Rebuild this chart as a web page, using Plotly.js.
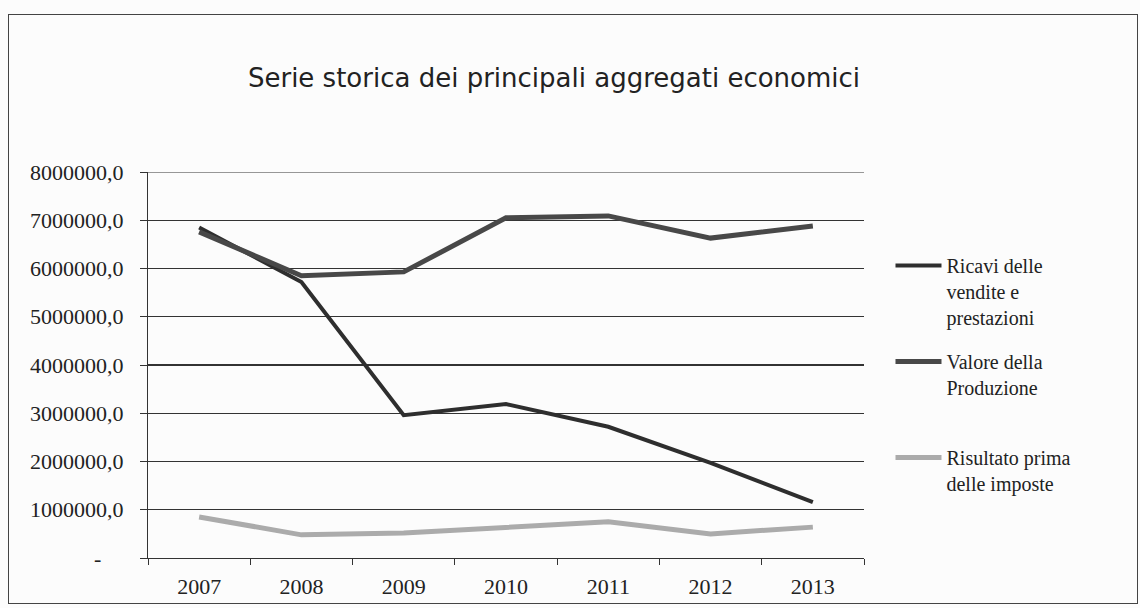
<!DOCTYPE html>
<html>
<head>
<meta charset="utf-8">
<script src="https://cdn.plot.ly/plotly-3.0.1.min.js"></script>
<style>
  html, body { margin: 0; padding: 0; background: #fcfcfc; }
  #wrap { position: relative; width: 1140px; height: 608px; overflow: hidden; background: #fcfcfc; }
  #frame { position: absolute; left: 8px; top: 14px; width: 1130px; height: 590px; border: 1.5px solid #444; box-sizing: border-box; pointer-events: none; z-index: 5; }
  #chart { position: absolute; left: 0; top: 0; width: 1140px; height: 608px; }
</style>
</head>
<body>
<div id="wrap">
  <div id="chart"></div>
  <div id="frame"></div>
</div>
<script>
const years = ['2007', '2008', '2009', '2010', '2011', '2012', '2013'];
const ricavi = [6850000, 5720000, 2960000, 3190000, 2720000, 1970000, 1160000];
const valoreProduzione = [6760000, 5850000, 5930000, 7050000, 7090000, 6630000, 6880000];
const risultatoAnteImposte = [850000, 480000, 520000, 640000, 750000, 500000, 640000];
const seriesNames = ['Ricavi delle<br>vendite e<br>prestazioni', 'Valore della<br>Produzione', 'Risultato prima<br>delle imposte'];
const tickValues = [0, 1000000, 2000000, 3000000, 4000000, 5000000, 6000000, 7000000, 8000000];
const tickLabels = ['-\u00a0\u00a0\u00a0\u00a0', '1000000,0', '2000000,0', '3000000,0', '4000000,0', '5000000,0', '6000000,0', '7000000,0', '8000000,0'];
const chartTitle = 'Serie storica dei principali aggregati economici';
const yMax = 8000000;

const serif = '"Liberation Serif", "DejaVu Serif", serif';

const traces = [
  { x: years, y: ricavi, name: seriesNames[0], type: 'scatter', mode: 'lines',
    line: { color: '#2e2e2e', width: 4 }, legend: 'legend' },
  { x: years, y: valoreProduzione, name: seriesNames[1], type: 'scatter', mode: 'lines',
    line: { color: '#484848', width: 5 }, legend: 'legend2' },
  { x: years, y: risultatoAnteImposte, name: seriesNames[2], type: 'scatter', mode: 'lines',
    line: { color: '#ababab', width: 5 }, legend: 'legend3' }
];

const legendBase = {
  font: { family: serif, size: 20, color: '#222' },
  bgcolor: 'rgba(0,0,0,0)',
  borderwidth: 0,
  valign: 'top',
  xanchor: 'left',
  yanchor: 'top',
  itemwidth: 46,
  tracegroupgap: 0
};

const layout = {
  width: 1140,
  height: 608,
  paper_bgcolor: '#fcfcfc',
  plot_bgcolor: '#fcfcfc',
  margin: { l: 148, r: 276, t: 172, b: 50 },
  title: {
    text: chartTitle,
    font: { family: '"DejaVu Sans", sans-serif', size: 26, color: '#222' },
    x: 554 / 1140, xanchor: 'center', xref: 'container',
    y: 1 - 78 / 608, yanchor: 'middle', yref: 'container'
  },
  xaxis: {
    type: 'category',
    range: [-0.5, 6.5],
    showgrid: false,
    showline: true, linecolor: '#333', linewidth: 1.2,
    ticks: 'outside', tickson: 'boundaries', ticklen: 6, tickcolor: '#333',
    ticklabelstandoff: 8,
    tickfont: { family: serif, size: 22, color: '#222' },
    fixedrange: true
  },
  yaxis: {
    range: [0, yMax],
    tickvals: tickValues,
    ticktext: tickLabels,
    showgrid: true, gridcolor: '#333', gridwidth: 1.2,
    showline: true, linecolor: '#333', linewidth: 1.2,
    ticks: 'outside', ticklen: 7, tickcolor: '#333',
    ticklabelstandoff: 12,
    tickfont: { family: serif, size: 22, color: '#222' },
    zeroline: false,
    fixedrange: true
  },
  shapes: [
    { type: 'line', xref: 'paper', yref: 'y', x0: 0, x1: 1, y0: yMax, y1: yMax,
      line: { color: '#333', width: 1.2 } }
  ],
  showlegend: true,
  legend: Object.assign({}, legendBase, { x: 1.037, y: 1 - (246 - 172) / 386 }),
  legend2: Object.assign({}, legendBase, { x: 1.037, y: 1 - (342 - 172) / 386 }),
  legend3: Object.assign({}, legendBase, { x: 1.037, y: 1 - (438 - 172) / 386 })
};

Plotly.newPlot('chart', traces, layout, { displayModeBar: false, staticPlot: true });
</script>
</body>
</html>
